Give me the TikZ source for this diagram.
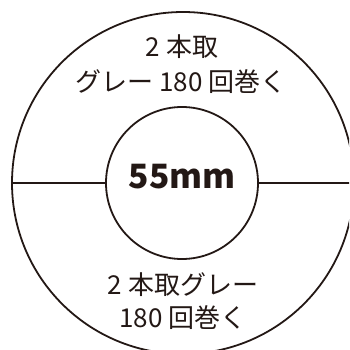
\documentclass[tikz,border=0pt]{standalone}
\usepackage{fontspec}
\newfontfamily\jp{Noto Sans CJK JP}
\usetikzlibrary{positioning}
\definecolor{ink}{HTML}{231815}
\tikzstyle{ring}=[draw=ink, circle, line width=1.8pt, inner sep=0]
\tikzstyle{lbl}=[text=ink, font=\jp\fontsize{26}{30}\selectfont, inner sep=0, align=center]
\tikzstyle{size}=[text=ink, font=\jp\bfseries\fontsize{33.5}{38}\selectfont, inner sep=0]

\begin{document}
\begin{tikzpicture}[x=1pt, y=-1pt]
    \useasboundingbox (0,0) rectangle (349,350);
    \clip (0,0) rectangle (349,350);
    \node[ring, minimum size=342pt] (outer) at (183,183) {};
    \node[ring, minimum size=152pt] (inner) at (182,183) {};
    \draw[ink, line width=1.8pt] (outer.west) -- (inner.west);
    \draw[ink, line width=1.8pt] (inner.east) -- (outer.east);
    \node[size] (dia) at (182,177) {55mm};
    \node[lbl] (top1) at (182,47) {2 本取};
    \node[lbl] (top2) at (181,82) {グレー 180 回巻く};
    \node[lbl] (bot1) at (183,285) {2 本取グレー};
    \node[lbl] (bot2) at (183,318) {180 回巻く};
\end{tikzpicture}
\end{document}
